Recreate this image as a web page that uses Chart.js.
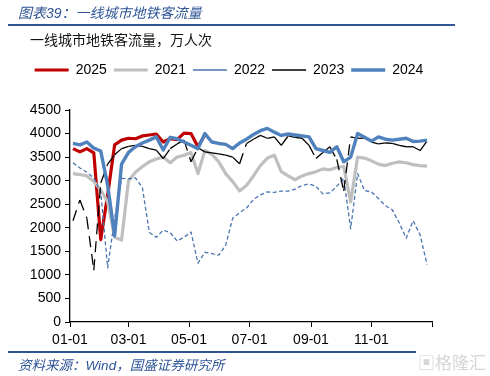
<!DOCTYPE html>
<html>
<head>
<meta charset="utf-8">
<script src="https://cdn.jsdelivr.net/npm/chart.js@4.4.0/dist/chart.umd.min.js"></script>
<style>
  html, body { margin: 0; padding: 0; background: #fff; }
  #wrap { position: relative; width: 490px; height: 376px; overflow: hidden; }
  #c { position: absolute; left: 0; top: 0; }
  .title { position: absolute; left: 18px; top: 2px; font: italic 14px "Liberation Sans", "Noto Sans CJK SC"; color: #2f5597; white-space: nowrap; }
  .sub { position: absolute; left: 30px; top: 29px; font: 14px "Noto Sans CJK SC"; color: #111; white-space: nowrap; }
  .rule { position: absolute; left: 8px; height: 1.5px; background: #2f5597; }
  .src { position: absolute; left: 18px; top: 354px; font: italic 13.5px "Liberation Sans", "Noto Sans CJK SC"; color: #2f5597; white-space: nowrap; }
  .wm { position: absolute; left: 418px; top: 349px; font: 17px "Noto Sans CJK SC"; color: #d6d6d6; white-space: nowrap; }
</style>
</head>
<body>
<div id="wrap">
  <canvas id="c" width="490" height="376"></canvas>
  <div class="title">图表39：一线城市地铁客流量</div>
  <div class="rule" style="top:24px;width:447px"></div>
  <div class="sub">一线城市地铁客流量，万人次</div>
  <div class="rule" style="top:351px;width:408px"></div>
  <div class="src">资料来源：Wind，国盛证券研究所</div>
  <div class="wm">▣格隆汇</div>
</div>
<script>
// weekly observations, week k sits on day 3 + 7k of the year
const weekDays = Array.from({length: 52}, (_, k) => 3 + 7 * k);

const tickDays = [0, 59, 120, 181, 243, 304, 365];
const tickLabels = ["01-01", "03-01", "05-01", "07-01", "09-01", "11-01", ""];

const y2025 = [3680, 3610, 3680, 3590, 1750, 2700, 3760, 3860, 3900, 3890,
               3950, 3970, 3990, 3820, 3890, 3870, 4010, 4000, 3720, 3970];

const y2021 = [3150, 3130, 3100, 2980, 2800, 2550, 1800, 1740, 3000, 3180,
               3300, 3400, 3460, 3500, 3380, 3500, 3540, 3600, 3150, 3640,
               3560, 3400, 3150, 2980, 2780, 2900, 3100, 3320, 3480, 3540,
               3190, 3100, 3020, 3100, 3150, 3190, 3250, 3230, 3280, 3300,
               2550, 3500, 3480, 3420, 3350, 3320, 3370, 3400, 3380, 3340,
               3320, 3310];

const y2022 = [3380, 3270, 3180, 3060, 2750, 1150, 2200, 3050, 3040, 3060,
               2850, 1900, 1800, 1950, 1900, 1720, 1800, 1910, 1250, 1480,
               1450, 1420, 1630, 2200, 2320, 2420, 2600, 2700, 2760, 2750,
               2780, 2780, 2820, 2900, 2930, 2880, 2720, 2740, 2880, 3050,
               1980, 3150, 2790, 2760, 2620, 2470, 2380, 2100, 1780, 2150,
               1850, 1220];

const y2023 = [2150, 2590, 2200, 1100, 2950, 3350, 3550, 3680, 3730, 3750,
               3730, 3680, 3650, 3470, 3680, 3780, 3860, 3400, 3700, 3610,
               3590, 3570, 3540, 3500, 3360, 3790, 3880, 3960, 3900, 3930,
               3750, 3950, 3920, 3900, 3750, 3470, 3600, 3720, 3450, 2780,
               3930, 3900, 3900, 3820, 3780, 3800, 3790, 3750, 3720, 3720,
               3640, 3840];

const y2024 = [3790, 3760, 3820, 3690, 3630, 2900, 1830, 3350, 3600, 3720,
               3800, 3860, 3930, 3650, 3920, 3890, 3820, 3750, 3680, 4000,
               3820, 3790, 3770, 3680, 3800, 3880, 3980, 4060, 4110, 4030,
               3960, 3990, 3970, 3950, 3930, 3680, 3640, 3600, 3720, 3400,
               3500, 4000, 3920, 3840, 3930, 3880, 3860, 3880, 3900, 3830,
               3840, 3860];

const pts = vals => vals.map((v, i) => ({x: weekDays[i], y: v}));

const AXIS_FONT = {family: "'Liberation Sans', Arial, sans-serif", size: 14};

// leave room between legend and plot
const legendSpace = {
  id: 'legendSpace',
  beforeInit(chart) {
    const fit = chart.legend.fit;
    chart.legend.fit = function () { fit.call(this); this.height += 23; };
  }
};

new Chart("c", {
  type: "line",
  data: {
    datasets: [
      {label: "2025", data: pts(y2025), borderColor: "#c00000", borderWidth: 3.2, order: 4},
      {label: "2021", data: pts(y2021), borderColor: "#bfbfbf", borderWidth: 3.2, order: 3},
      {label: "2022", data: pts(y2022), borderColor: "#4a74b0", borderWidth: 1.3, borderDash: [4, 2.5], order: 2},
      {label: "2023", data: pts(y2023), borderColor: "#000000", borderWidth: 1.3, borderDash: [11, 7], order: 1,
       // Excel restarts the dash on every segment
       segment: {borderDashOffset: ctx => ctx.p0DataIndex * 0.001}},
      {label: "2024", data: pts(y2024), borderColor: "#4f81bd", borderWidth: 3.4, order: 0}
    ]
  },
  options: {
    responsive: false,
    animation: false,
    elements: {
      point: {radius: 0},
      line: {tension: 0, fill: false, borderCapStyle: "butt", borderJoinStyle: "round"}
    },
    layout: {padding: {left: 26, right: 58, top: 56, bottom: 24}},
    plugins: {
      tooltip: {enabled: false},
      legend: {
        position: "top",
        labels: {
          usePointStyle: true,
          pointStyle: "line",
          pointStyleWidth: 34,
          padding: 7,
          color: "#000",
          font: AXIS_FONT,
          sort: (a, b) => a.datasetIndex - b.datasetIndex
        }
      }
    },
    scales: {
      x: {
        type: "linear",
        min: 0,
        max: 365,
        afterBuildTicks: s => { s.ticks = tickDays.map(v => ({value: v})); },
        afterFit: s => { s.height = 30; },
        ticks: {
          autoSkip: false,
          maxRotation: 0,
          padding: 5,
          color: "#000",
          font: AXIS_FONT,
          callback: v => tickLabels[tickDays.indexOf(v)]
        },
        grid: {drawOnChartArea: false, drawTicks: true, tickLength: 5, color: "#000"},
        border: {display: true, color: "#000", width: 1.3}
      },
      y: {
        min: 0,
        max: 4500,
        afterFit: s => { s.width = 44; },
        ticks: {stepSize: 500, padding: 4, color: "#000", font: AXIS_FONT, callback: v => String(v)},
        grid: {drawOnChartArea: false, drawTicks: true, tickLength: 5, color: "#000"},
        border: {display: true, color: "#000", width: 1.3}
      }
    }
  },
  plugins: [legendSpace]
});
</script>
</body>
</html>
